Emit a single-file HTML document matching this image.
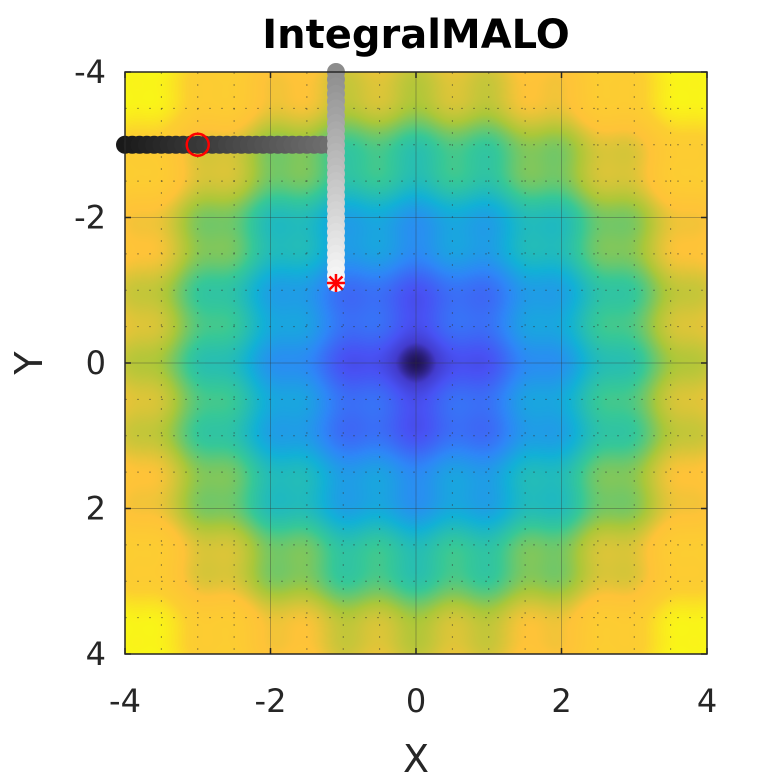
<!DOCTYPE html>
<html><head><meta charset="utf-8"><style>
body{margin:0;background:#fff;width:781px;height:781px;overflow:hidden;position:relative;font-family:"DejaVu Sans","Liberation Sans",sans-serif}
canvas{position:absolute;left:125px;top:72px}
svg{position:absolute;left:0;top:0}
</style></head><body>
<canvas id="hm" width="582" height="582"></canvas>
<svg id="ov" width="781" height="781"></svg>
<script>
// trajectory data
const pathX1 = [-4.0,-3.9,-3.8,-3.7,-3.6,-3.5,-3.4,-3.3,-3.2,-3.1,-3.0,-2.9,-2.8,-2.7,-2.6,-2.5,-2.4,-2.3,-2.2,-2.1,-2.0,-1.9,-1.8,-1.7,-1.6,-1.5,-1.4,-1.3,-1.2];
const pathY1 = -3.0;
const pathX2 = -1.1;
const pathY2 = [-4.0,-3.9,-3.8,-3.7,-3.6,-3.5,-3.4,-3.3,-3.2,-3.1,-3.0,-2.9,-2.8,-2.7,-2.6,-2.5,-2.4,-2.3,-2.2,-2.1,-2.0,-1.9,-1.8,-1.7,-1.6,-1.5,-1.4,-1.3,-1.2,-1.1];
const startPoint = [-3.0,-3.0];
const endPoint = [-1.1,-1.1];
const xTicks = [-4,-2,0,2,4];
const yTicks = [-4,-2,0,2,4];
const domain = [-4,4];

const L=125,T=72,W=582,H=582;
const sx=v=>L+(v-domain[0])/(domain[1]-domain[0])*W;
const sy=v=>T+(v-domain[0])/(domain[1]-domain[0])*H;
function surf(x,y){return Math.pow(Math.sqrt(x*x+y*y),1.2)+0.22*(2-Math.cos(2*Math.PI*x)-Math.cos(2*Math.PI*y));}
const par=[[62,38,168],[72,82,244],[46,135,247],[18,177,214],[55,200,151],[171,199,57],[254,195,56],[252,207,48],[249,251,20]];
function cmap(t){t=Math.max(0,Math.min(1,t))*8;const i=Math.min(7,Math.floor(t)),f=t-i;return par[i].map((c,k)=>c+(par[i+1][k]-c)*f);}
const ctx=document.getElementById('hm').getContext('2d');
const img=ctx.createImageData(W,H);
let vmax=surf(4,4),vmin=0;
for(let j=0;j<H;j++)for(let i=0;i<W;i++){
 const x=domain[0]+(i+0.5)/W*8,y=domain[0]+(j+0.5)/H*8;
 let t=(surf(x,y)-vmin)/(vmax-vmin);
 let c=cmap(t);
 if(t<0.06){const d=Math.max(0,1-t/0.06)*0.5;c=c.map(v=>v*(1-d));}
 const p=(j*W+i)*4;img.data[p]=c[0];img.data[p+1]=c[1];img.data[p+2]=c[2];img.data[p+3]=255;}
ctx.putImageData(img,0,0);

const ns='http://www.w3.org/2000/svg',svg=document.getElementById('ov');
function mk(tag,attrs,parent){const e=document.createElementNS(ns,tag);for(const k in attrs)e.setAttribute(k,attrs[k]);(parent||svg).appendChild(e);return e;}
const grid=mk('g',{});


for(let v=-3.5;v<4;v+=0.5){
 if(Math.abs(v%2)<1e-9)continue;
 mk('line',{x1:sx(v),x2:sx(v),y1:T,y2:T+H,stroke:'#333','stroke-opacity':0.5,'stroke-dasharray':'2 10','stroke-width':1},grid);
 mk('line',{y1:sy(v),y2:sy(v),x1:L,x2:L+W,stroke:'#333','stroke-opacity':0.5,'stroke-dasharray':'2 10','stroke-width':1},grid);
}
xTicks.forEach(v=>{mk('line',{x1:sx(v),x2:sx(v),y1:T,y2:T+H,stroke:'#333','stroke-opacity':0.35,'stroke-width':1},grid);});
yTicks.forEach(v=>{mk('line',{y1:sy(v),y2:sy(v),x1:L,x2:L+W,stroke:'#333','stroke-opacity':0.35,'stroke-width':1},grid);});
const n=pathX1.length;let idx=0;
const traj=mk('g',{});


function gcol(k){const g=Math.round(25+(110-25)*k/(n-1));return `rgb(${g},${g},${g})`;}
pathX1.forEach(x=>{const c=mk('circle',{cx:sx(x),cy:sy(pathY1),r:9,fill:gcol(idx++)},traj);

});
pathY2.forEach((y,k)=>{const g=Math.round(140+(248-140)*k/(pathY2.length-1));const c=mk('circle',{cx:sx(pathX2),cy:sy(y),r:9,fill:`rgb(${g},${g},${g})`},traj);

});
const sc=mk('circle',{cx:sx(startPoint[0]),cy:sy(startPoint[1]),r:11,fill:'none',stroke:'#f00','stroke-width':2.5});


const star=mk('g',{stroke:'#f00','stroke-width':2.5});


const ex=sx(endPoint[0]),ey=sy(endPoint[1]);
[[0,9],[9,0],[6.5,6.5],[6.5,-6.5]].forEach(([a,b])=>mk('line',{x1:ex-a,y1:ey-b,x2:ex+a,y2:ey+b},star));
const box=mk('rect',{x:L,y:T,width:W,height:H,fill:'none',stroke:'#262626','stroke-width':1.5});


xTicks.forEach(v=>{mk('line',{x1:sx(v),x2:sx(v),y1:T+H,y2:T+H-6,stroke:'#262626','stroke-width':1.5});mk('line',{x1:sx(v),x2:sx(v),y1:T,y2:T+6,stroke:'#262626','stroke-width':1.5});
 const t=mk('text',{x:sx(v),y:712,'text-anchor':'middle','font-size':32,fill:'#262626'});t.textContent=v;
 
 });
yTicks.forEach(v=>{mk('line',{y1:sy(v),y2:sy(v),x1:L,x2:L+6,stroke:'#262626','stroke-width':1.5});mk('line',{y1:sy(v),y2:sy(v),x1:L+W,x2:L+W-6,stroke:'#262626','stroke-width':1.5});
 const t=mk('text',{x:106,y:sy(v)+11,'text-anchor':'end','font-size':32,fill:'#262626'});t.textContent=v;
 
 });
const xt=mk('text',{x:416,y:772,'text-anchor':'middle','font-size':38,fill:'#262626'});xt.textContent='X';


const yt=mk('text',{x:42,y:363,'text-anchor':'middle','font-size':38,fill:'#262626',transform:'rotate(-90 42 363)'});yt.textContent='Y';


const tt=mk('text',{x:416,y:48,'text-anchor':'middle','font-size':40,'font-weight':'bold',fill:'#000'});tt.textContent='IntegralMALO';


</script>
</body></html>
